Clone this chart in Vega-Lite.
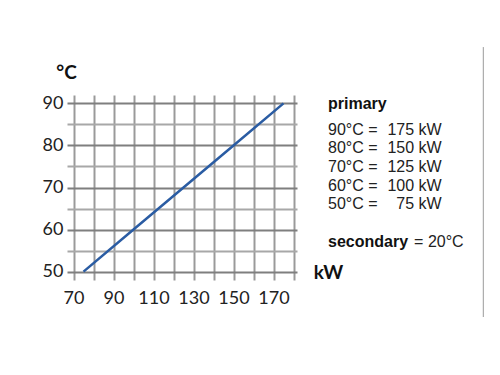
{
  "$schema": "https://vega.github.io/schema/vega-lite/v6.json",
  "autosize": "none",
  "width": 230,
  "height": 185,
  "padding": {"left": 67, "top": 95, "right": 203, "bottom": 95},
  "background": "white",
  "config": {"view": {"stroke": null}},
  "datasets": {
    "curve": [
      {"kw": 75, "temp": 50},
      {"kw": 100, "temp": 60},
      {"kw": 125, "temp": 70},
      {"kw": 150, "temp": 80},
      {"kw": 175, "temp": 90}
    ],
    "heading": [
      {"label": "primary", "x": 197.25, "y": 89.86},
      {"label": "secondary", "x": 197.25, "y": 57.11}
    ],
    "rows": [
      {"left": "90°C =", "right": "175 kW", "x": 197.25, "xr": 254.1, "y": 83.68},
      {"left": "80°C =", "right": "150 kW", "x": 197.25, "xr": 254.1, "y": 79.32},
      {"left": "70°C =", "right": "125 kW", "x": 197.25, "xr": 254.1, "y": 74.8},
      {"left": "60°C =", "right": "100 kW", "x": 197.25, "xr": 254.1, "y": 70.36},
      {"left": "50°C =", "right": "75 kW", "x": 197.25, "xr": 254.1, "y": 66.08}
    ],
    "secondary": [
      {"label": "= 20°C", "x": 240.3, "y": 57.11}
    ],
    "divider": [
      {"x": 274.9, "y": 103.4, "y2": 39.2}
    ]
  },
  "layer": [
    {
      "data": {"name": "curve"},
      "mark": {"type": "line", "color": "#2A5CA3", "strokeWidth": 2.5},
      "encoding": {
        "x": {
          "field": "kw", "type": "quantitative",
          "scale": {"domain": [66.75, 181.75], "nice": false, "zero": false},
          "axis": {
            "values": [70, 80, 90, 100, 110, 120, 130, 140, 150, 160, 170, 180],
            "tickCount": 30,
            "labelExpr": "(datum.value % 20 == 10 && datum.value < 180) ? datum.label : ''",
            "labelOverlap": false,
            "domain": false, "ticks": false,
            "grid": true, "gridColor": "#9a9a9a", "gridWidth": 2, "gridOpacity": 1,
            "labelFont": "Lato", "labelFontSize": 18, "labelColor": "#222222",
            "labelPadding": 9, "labelFlush": false,
            "title": "kW", "titleFont": "Lato", "titleFontSize": 19, "titleFontWeight": "bold",
            "titleColor": "#111111", "titleX": 261, "titleY": -8,
            "titleAlign": "center", "titleBaseline": "middle", "titleAngle": 0
          }
        },
        "y": {
          "field": "temp", "type": "quantitative",
          "scale": {"domain": [48, 92], "nice": false, "zero": false},
          "axis": {
            "values": [50, 55, 60, 65, 70, 75, 80, 85, 90],
            "tickCount": 30,
            "labelExpr": "datum.value % 10 == 0 ? datum.label : ''",
            "labelOverlap": false,
            "domain": false, "ticks": false,
            "grid": true,
            "gridColor": {"condition": {"test": "datum.value % 10 == 0", "value": "#7f7f7f"}, "value": "#a8a8a8"},
            "gridWidth": 2, "gridOpacity": 1,
            "labelFont": "Lato", "labelFontSize": 18, "labelColor": "#222222",
            "labelPadding": 4, "labelFlush": false,
            "title": "°C", "titleFont": "Lato", "titleFontSize": 19, "titleFontWeight": "bold",
            "titleColor": "#111111", "titleX": -1, "titleY": -23,
            "titleAlign": "center", "titleBaseline": "middle", "titleAngle": 0
          }
        }
      }
    },
    {
      "data": {"name": "heading"},
      "mark": {"type": "text", "font": "Liberation Sans", "fontSize": 16, "fontWeight": "bold", "align": "left", "baseline": "middle", "color": "#111111"},
      "encoding": {
        "x": {"field": "x", "type": "quantitative"},
        "y": {"field": "y", "type": "quantitative"},
        "text": {"field": "label"}
      }
    },
    {
      "data": {"name": "rows"},
      "mark": {"type": "text", "font": "Liberation Sans", "fontSize": 16, "align": "left", "baseline": "middle", "color": "#222222"},
      "encoding": {
        "x": {"field": "x", "type": "quantitative"},
        "y": {"field": "y", "type": "quantitative"},
        "text": {"field": "left"}
      }
    },
    {
      "data": {"name": "rows"},
      "mark": {"type": "text", "font": "Liberation Sans", "fontSize": 16, "align": "right", "baseline": "middle", "color": "#222222"},
      "encoding": {
        "x": {"field": "xr", "type": "quantitative"},
        "y": {"field": "y", "type": "quantitative"},
        "text": {"field": "right"}
      }
    },
    {
      "data": {"name": "secondary"},
      "mark": {"type": "text", "font": "Liberation Sans", "fontSize": 16, "align": "left", "baseline": "middle", "color": "#222222"},
      "encoding": {
        "x": {"field": "x", "type": "quantitative"},
        "y": {"field": "y", "type": "quantitative"},
        "text": {"field": "label"}
      }
    },
    {
      "data": {"name": "divider"},
      "mark": {"type": "rule", "color": "#9a9a9a", "strokeWidth": 1},
      "encoding": {
        "x": {"field": "x", "type": "quantitative"},
        "y": {"field": "y", "type": "quantitative"},
        "y2": {"field": "y2"}
      }
    }
  ]
}
